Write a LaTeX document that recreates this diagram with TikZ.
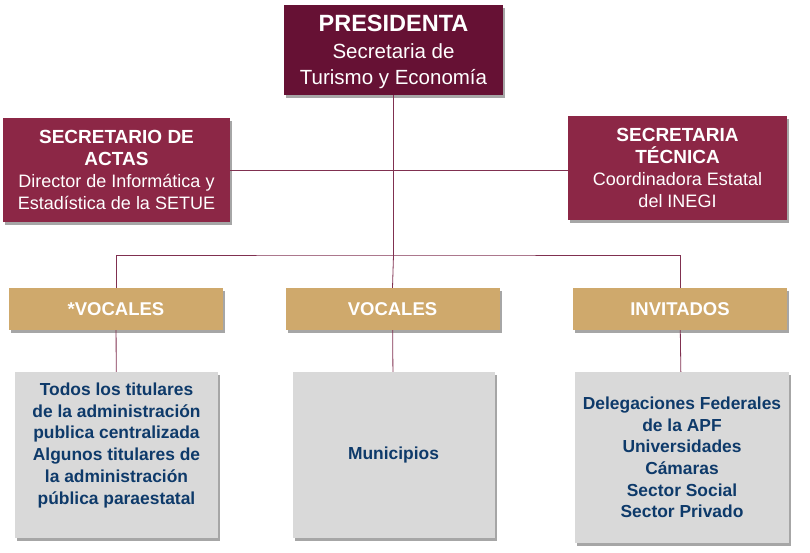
\documentclass[tikz,border=0pt]{standalone}
\usepackage{fontspec}
\setmainfont{Liberation Sans}
\usetikzlibrary{shadows}

\definecolor{presfill}{RGB}{102,17,52}
\definecolor{secfill}{RGB}{140,39,70}
\definecolor{vocfill}{RGB}{207,169,108}
\definecolor{grayfill}{RGB}{217,217,217}
\definecolor{navytext}{RGB}{14,58,106}
\definecolor{linkline}{RGB}{128,48,80}

\newcommand{\hdline}[1]{{\fontsize{19}{22}\selectfont\bfseries #1}}

\tikzset{
  box/.style = {rectangle, align=center, inner sep=2pt,
                drop shadow={shadow xshift=2pt, shadow yshift=-3pt, fill=black, opacity=0.35}},
  presbox/.style = {box, fill=presfill, text=white, minimum width=219pt, minimum height=90pt,
                    font=\fontsize{20.5}{26.5}\selectfont},
  secbox/.style = {box, fill=secfill, text=white, minimum height=104pt,
                   font=\fontsize{18}{22}\selectfont},
  vocbox/.style = {box, fill=vocfill, text=white, minimum width=214pt, minimum height=42pt,
                   font=\fontsize{18.5}{22}\selectfont\bfseries},
  listbox/.style = {box, fill=grayfill, text=navytext, minimum height=166pt,
                    font=\fontsize{17.4}{21.7}\selectfont\bfseries},
  link/.style = {linkline, line width=0.8pt}
}

\begin{document}
\begin{tikzpicture}[x=1pt, y=-1pt]
  \useasboundingbox (0,0) rectangle (810,553);

  % top
  \node[presbox, text depth=0pt] (pres) at (393.5,50) {{\fontsize{23.5}{26}\selectfont\bfseries PRESIDENTA}\\ Secretaria de\\ Turismo y Econom\'ia};
  \node[secbox, minimum width=227pt] (actas) at (116.5,170) {\hdline{SECRETARIO DE}\\ \hdline{ACTAS}\\ Director de Inform\'atica y\\ Estad\'istica de la SETUE};
  \node[secbox, minimum width=219pt] (tec) at (677.5,168) {\hdline{SECRETARIA}\\ \hdline{T\'ECNICA}\\ Coordinadora Estatal\\ del INEGI};

  % middle row
  \node[vocbox] (voc1) at (116,309) {*VOCALES};
  \node[vocbox] (voc2) at (392.5,309) {VOCALES};
  \node[vocbox] (inv) at (680,309) {INVITADOS};

  % bottom row
  \node[listbox, minimum width=203pt, text depth=23pt] (list1) at (116.5,455) {Todos los titulares\\ de la administraci\'on\\ publica centralizada\\ Algunos titulares de\\ la administraci\'on\\ p\'ublica paraestatal};
  \node[listbox, minimum width=202pt] (list2) at (393.5,455) {Municipios};
  \node[listbox, minimum width=214pt, minimum height=171pt] (list3) at (682,457.5) {Delegaciones Federales\\ de la APF\\ Universidades\\ C\'amaras\\ Sector Social\\ Sector Privado};

  \coordinate (bus) at (pres.south |- 0,255);

  \draw[link] (actas.east) -- (tec.west |- actas.east);
  \draw[link] (pres.south) -- (bus);
  \draw[link] (voc1.north) |- (bus) -| (inv.north);
  \draw[link] (bus) -- (voc2.north);
  \draw[link] (voc1) -- (list1);
  \draw[link] (voc2) -- (list2);
  \draw[link] (inv) -- (list3);
\end{tikzpicture}
\end{document}
